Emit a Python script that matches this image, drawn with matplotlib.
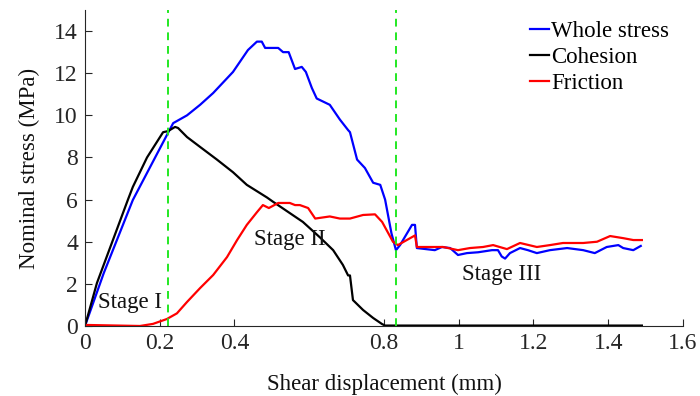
import matplotlib
matplotlib.use('Agg')
import matplotlib.pyplot as plt

# Whole stress (blue)
whole_x = [0, 0.05, 0.128, 0.222, 0.236, 0.273, 0.308, 0.343, 0.396, 0.436, 0.46, 0.473, 0.482,
           0.517, 0.53, 0.545, 0.562, 0.58, 0.591, 0.607, 0.62, 0.655, 0.682, 0.704, 0.709,
           0.728, 0.749, 0.771, 0.79, 0.803, 0.82, 0.832, 0.843, 0.875, 0.883, 0.888, 0.936,
           0.955, 0.977, 0.998, 1.022, 1.052, 1.089, 1.105, 1.115, 1.124, 1.137, 1.164, 1.185,
           1.209, 1.244, 1.29, 1.333, 1.364, 1.396, 1.427, 1.44, 1.467, 1.487]
whole_y = [0, 2.5, 5.98, 9.16, 9.63, 10.0, 10.5, 11.06, 12.06, 13.1, 13.5, 13.5, 13.2,
           13.2, 13.0, 13.0, 12.2, 12.3, 12.06, 11.3, 10.8, 10.5, 9.8, 9.3, 9.2,
           7.9, 7.5, 6.8, 6.7, 6.0, 4.4, 3.6, 3.84, 4.8, 4.8, 3.7, 3.6,
           3.75, 3.7, 3.37, 3.46, 3.5, 3.6, 3.6, 3.3, 3.2, 3.46, 3.7, 3.6,
           3.46, 3.6, 3.7, 3.6, 3.46, 3.75, 3.84, 3.7, 3.6, 3.8]

# Cohesion (black)
coh_x = [0, 0.032, 0.115, 0.128, 0.166, 0.209, 0.222, 0.241, 0.249, 0.273, 0.308, 0.353,
         0.396, 0.433, 0.46, 0.487, 0.503, 0.548, 0.583, 0.629, 0.664, 0.69, 0.704, 0.709,
         0.717, 0.744, 0.771, 0.795, 0.803, 1.49]
coh_y = [0, 2.04, 6.0, 6.6, 8.0, 9.2, 9.25, 9.45, 9.4, 8.97, 8.5, 7.9,
         7.3, 6.7, 6.4, 6.1, 5.9, 5.36, 4.94, 4.2, 3.6, 2.9, 2.4, 2.4,
         1.23, 0.76, 0.38, 0.09, 0.02, 0.02]

# Friction (red)
fric_x = [0, 0.147, 0.182, 0.219, 0.246, 0.273, 0.308, 0.343, 0.38, 0.407, 0.433, 0.46,
          0.476, 0.492, 0.517, 0.548, 0.562, 0.575, 0.597, 0.616, 0.655, 0.682, 0.709, 0.744,
          0.776, 0.795, 0.824, 0.837, 0.861, 0.883, 0.888, 0.958, 0.998, 1.03, 1.065, 1.092,
          1.129, 1.164, 1.209, 1.244, 1.279, 1.333, 1.37, 1.405, 1.44, 1.467, 1.49]
fric_y = [0.05, 0.0, 0.1, 0.33, 0.6, 1.14, 1.8, 2.42, 3.27, 4.08, 4.8, 5.4,
          5.74, 5.6, 5.84, 5.84, 5.74, 5.74, 5.6, 5.1, 5.2, 5.1, 5.1, 5.27,
          5.3, 4.94, 4.0, 3.84, 4.08, 4.3, 3.75, 3.75, 3.6, 3.7, 3.75, 3.84,
          3.65, 3.94, 3.75, 3.84, 3.94, 3.94, 4.0, 4.27, 4.17, 4.08, 4.08]

stage_bounds = [0.222, 0.832]
stage_names = ['Stage I', 'Stage II', 'Stage III']
stage_pos = [(0.035, 0.85), (0.453, 3.84), (1.009, 2.18)]
x_ticks = [0, 0.2, 0.4, 0.8, 1, 1.2, 1.4, 1.6]
x_tick_labels = ['0', '0.2', '0.4', '0.8', '1', '1.2', '1.4', '1.6']
y_ticks = [0, 2, 4, 6, 8, 10, 12, 14]

plt.rcParams['font.family'] = ['Liberation Serif', 'DejaVu Serif']
fs = 16.5

fig = plt.figure(figsize=(7, 3.96), dpi=100)
ax = fig.add_axes([0.1214, 0.1768, 0.8543, 0.7979])

ax.plot(whole_x, whole_y, color='#0000ff', lw=1.6, label='Whole stress')
ax.plot(coh_x, coh_y, color='black', lw=1.6, label='Cohesion')
ax.plot(fric_x, fric_y, color='#ff0000', lw=1.6, label='Friction')

for xb in stage_bounds:
    ax.axvline(xb, color='#22e822', lw=1.4, ls=(0, (4, 3)))

for name, (tx, ty) in zip(stage_names, stage_pos):
    ax.text(tx, ty, name, fontsize=fs, color='#111111', ha='left', va='baseline')

ax.set_xlim(0, 1.6)
ax.set_ylim(0, 15)
ax.set_xticks(x_ticks)
ax.set_xticklabels(x_tick_labels)
ax.set_yticks(y_ticks)
ax.tick_params(direction='in', length=5, colors='#262626', labelsize=17, pad=5)
for s in ['top', 'right']:
    ax.spines[s].set_visible(False)
for s in ['left', 'bottom']:
    ax.spines[s].set_color('#262626')

ax.set_xlabel('Shear displacement (mm)', fontsize=fs, color='#111111', labelpad=14)
ax.set_ylabel('Nominal stress (MPa)', fontsize=fs, color='#111111', labelpad=10)

leg = ax.legend(loc='upper left', frameon=False, handlelength=0.8, handletextpad=0.1,
                labelspacing=0.22, borderaxespad=0, borderpad=0, fontsize=fs,
                bbox_to_anchor=(0.745, 0.965))

fig.savefig('out.png', dpi=100)
